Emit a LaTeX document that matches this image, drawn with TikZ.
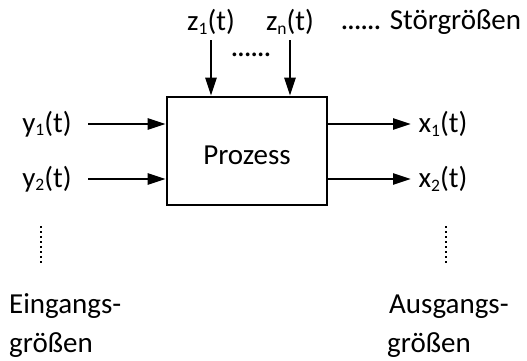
\documentclass[tikz,border=0pt]{standalone}
\usepackage{fontspec}
\setmainfont{Carlito}
\usetikzlibrary{arrows.meta}
\newcommand{\sbs}[1]{\raisebox{-0.12em}{\fontsize{17.5}{17.5}\selectfont #1}}
% a row of six evenly spaced dots
\newcommand{\onedot}{\makebox[6.6pt]{\fontsize{31}{31}\selectfont .}}
\newcommand{\dotrow}{\onedot\onedot\onedot\onedot\onedot\onedot}
\begin{document}
\begin{tikzpicture}[x=1pt,y=-1pt,
  every node/.style={font=\fontsize{29}{31}\selectfont, inner sep=0pt},
  sig/.style={line width=2.4pt, -{Triangle[length=18pt,width=11pt]}},
  vdots/.style={line width=2.6pt, dash pattern=on 2.4pt off 2.6pt},
  procbox/.style={draw, line width=2.6pt, minimum width=160pt, minimum height=108pt}]
\useasboundingbox (0,0) rectangle (527,360);
% process block
\node[procbox] (p) at (247,151) {};
\node (pl) at (247,155) {Prozess};
% disturbances
\node (z1) at (211,22) {z\sbs{1}(t)};
\node (zn) at (290,22) {z\sbs{n}(t)};
\node[anchor=west] (st) at (341,22) {\dotrow\hspace{9pt}Störgrößen};
\node (zd) at (251,55) {\dotrow};
\coordinate (z1s) at (211,40);
\coordinate (zns) at (290,40);
\draw[sig] (z1s) -- (z1s |- p.north);
\draw[sig] (zns) -- (zns |- p.north);
% inputs
\node (y1) at (47,124) {y\sbs{1}(t)};
\node (y2) at (47,179) {y\sbs{2}(t)};
\coordinate (y1s) at (88,124);
\coordinate (y2s) at (88,179);
\draw[sig] (y1s) -- (y1s -| p.west);
\draw[sig] (y2s) -- (y2s -| p.west);
% outputs
\node (x1) at (443,124) {x\sbs{1}(t)};
\node (x2) at (443,179) {x\sbs{2}(t)};
\coordinate (x1e) at (411,124);
\coordinate (x2e) at (411,179);
\draw[sig] (x1e -| p.east) -- (x1e);
\draw[sig] (x2e -| p.east) -- (x2e);
% continuation dots
\coordinate (ld1) at (41,226);
\coordinate (ld2) at (41,264);
\coordinate (rd1) at (446,226);
\coordinate (rd2) at (446,264);
\draw[vdots] (ld1) -- (ld2);
\draw[vdots] (rd1) -- (rd2);
% group labels
\node[anchor=base west] (ein1) at (9,313) {Eingangs-};
\node[anchor=base west] (ein2) at (9,352) {größen};
\node[anchor=base west] (aus1) at (389,313) {Ausgangs-};
\node[anchor=base west] (aus2) at (387,352) {größen};
\end{tikzpicture}
\end{document}
